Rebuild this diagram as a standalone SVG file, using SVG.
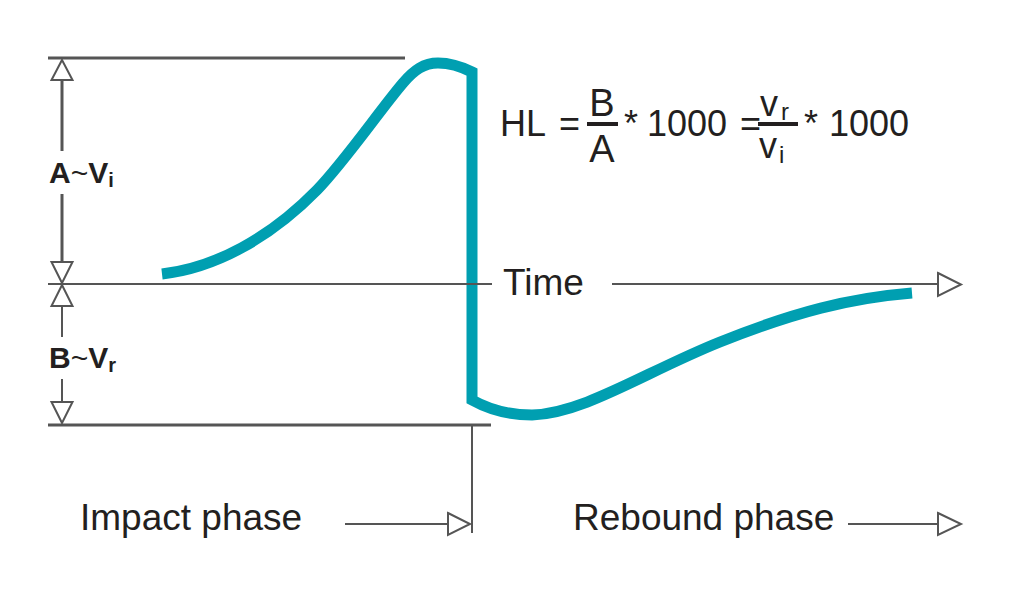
<svg xmlns="http://www.w3.org/2000/svg" width="1018" height="612" viewBox="0 0 1018 612">
<style>
  .ln{stroke:#555;fill:none;stroke-linecap:butt}
  .thick{stroke-width:3}
  .thin{stroke-width:2}
  .ah{fill:#fff;stroke:#555;stroke-width:2;stroke-linejoin:miter}
  .t{font-family:"Liberation Sans",Arial,Helvetica,sans-serif;fill:#231f20}
  .big{font-size:37px}
  .f{font-size:36px}
  .lbl{font-size:30px}
  .curve{fill:none;stroke:#009fb1;stroke-width:11;stroke-linejoin:miter;stroke-linecap:butt}
</style>
<rect width="1018" height="612" fill="#fff"/>
<g id="curve">
  <path class="curve" d="M162,274 C215,268 270,238 317,190 C345,161 380,110 403,83 C414,70 424,63 438,63 C450,63 462,67 472,72 L472,400 C490,410 510,415 532,415 C585,413 645,372 720,342 C795,312 850,298 912,293"/>
</g>
<g id="connectors">
  <line class="ln thick" x1="48" y1="58" x2="405" y2="58"/>
  <line class="ln thick" x1="48" y1="425" x2="491" y2="425"/>
  <line class="ln thin" x1="48" y1="284" x2="492" y2="284"/>
  <line class="ln thin" x1="612" y1="284" x2="938" y2="284"/>
  <polygon class="ah" points="938,273 961,284.5 938,296"/>
  <line class="ln thick" x1="62" y1="80" x2="62" y2="151"/>
  <line class="ln thick" x1="62" y1="194" x2="62" y2="262"/>
  <polygon class="ah" points="62,60 72.5,80 51.5,80"/>
  <polygon class="ah" points="51.5,262 72.5,262 62,283"/>
  <line class="ln thin" x1="62" y1="306" x2="62" y2="337"/>
  <line class="ln thin" x1="62" y1="379" x2="62" y2="402"/>
  <polygon class="ah" points="62,285 72.5,306 51.5,306"/>
  <polygon class="ah" points="51.5,402 72.5,402 62,423"/>
  <line class="ln thin" x1="472" y1="425" x2="472" y2="533"/>
  <line class="ln thin" x1="345" y1="524" x2="448" y2="524"/>
  <polygon class="ah" points="448,513 470,524 448,535"/>
  <line class="ln thin" x1="848" y1="524" x2="938" y2="524"/>
  <polygon class="ah" points="938,513 961,524 938,535"/>
</g>
<g id="label-a">
  <text class="t lbl" x="49" y="183"><tspan font-weight="bold">A</tspan><tspan>~</tspan><tspan font-weight="bold">V</tspan><tspan font-weight="bold" font-size="20" dy="4">i</tspan></text>
</g>
<g id="label-b">
  <text class="t lbl" x="49" y="368"><tspan font-weight="bold">B</tspan><tspan>~</tspan><tspan font-weight="bold">V</tspan><tspan font-weight="bold" font-size="20" dy="4">r</tspan></text>
</g>
<g id="time-label">
  <text class="t big" x="503" y="295">Time</text>
</g>
<g id="formula">
  <text class="t f" x="500" y="136">HL</text>
  <text class="t f" x="559" y="136">=</text>
  <rect x="587" y="122" width="31" height="4" fill="#231f20"/>
  <text class="t" font-size="38" x="602" y="116" text-anchor="middle">B</text>
  <text class="t" font-size="38" x="602" y="162" text-anchor="middle">A</text>
  <text class="t f" x="624" y="136">*</text>
  <text class="t f" x="647" y="136">1000</text>
  <text class="t f" x="740" y="136">=</text>
  <rect x="758" y="122" width="40" height="4" fill="#231f20"/>
  <text class="t f" x="760" y="116">v</text>
  <text class="t" font-size="24" x="781" y="120">r</text>
  <text class="t f" x="759" y="158">v</text>
  <text class="t" font-size="24" x="779" y="163">i</text>
  <text class="t f" x="804" y="136">*</text>
  <text class="t f" x="829" y="136">1000</text>
</g>
<g id="phase-labels">
  <text class="t big" x="80" y="530">Impact phase</text>
  <text class="t big" x="573" y="530">Rebound phase</text>
</g>
</svg>
